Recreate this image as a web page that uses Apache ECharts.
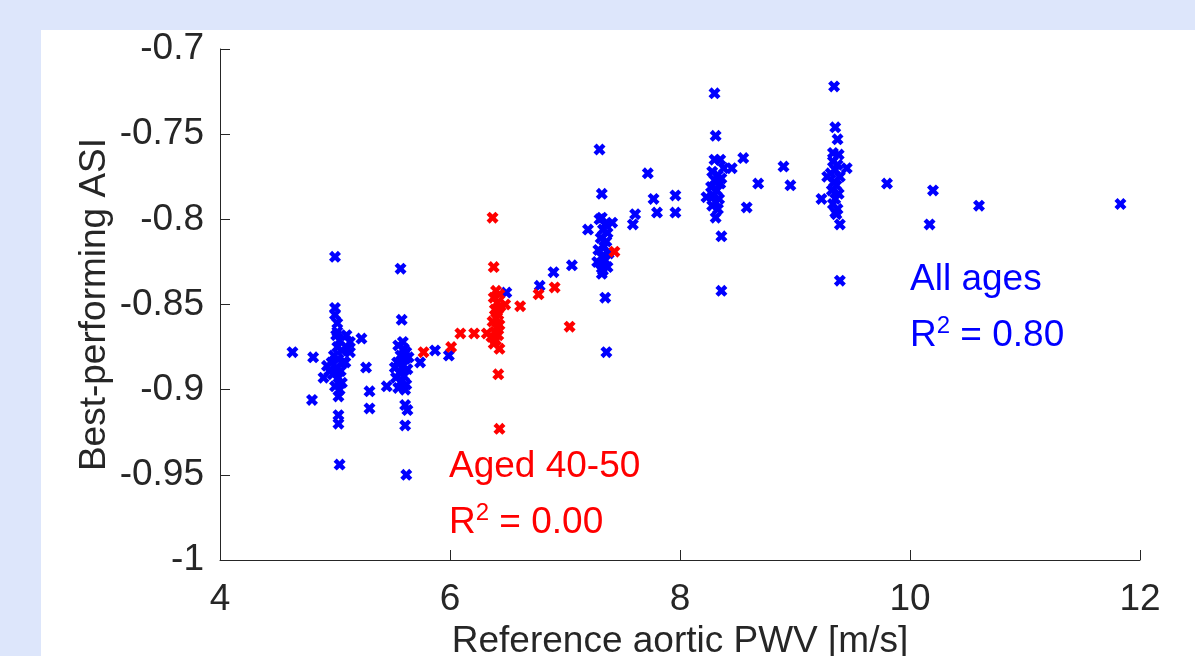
<!DOCTYPE html>
<html><head><meta charset="utf-8">
<script src="https://cdn.jsdelivr.net/npm/echarts@6/dist/echarts.min.js"></script>
<style>html,body{margin:0;padding:0;background:#fff}#c{width:1195px;height:656px}</style>
</head><body><div id="c"></div>
<script>
// X ticks and Y ticks
const xTicks = [4, 6, 8, 10, 12];
const yTicks = [-1, -0.95, -0.9, -0.85, -0.8, -0.75, -0.7];

// All ages (blue): [PWV, ASI]
const allAges = [
  [5.00,-0.822],[5.00,-0.852],[5.00,-0.856],[5.02,-0.861],[5.02,-0.866],[5.13,-0.872],[5.23,-0.870],
  [4.63,-0.878],[4.81,-0.881],[4.93,-0.886],[4.90,-0.893],[5.13,-0.878],[4.80,-0.906],[5.03,-0.904],
  [5.03,-0.915],[5.03,-0.920],[5.04,-0.944],[5.27,-0.887],[5.30,-0.901],[5.30,-0.911],[5.09,-0.884],
  [5.01,-0.868],[5.04,-0.871],[5.02,-0.875],[5.06,-0.877],[4.99,-0.880],[5.03,-0.882],[5.07,-0.884],
  [5.01,-0.887],[5.05,-0.889],[4.98,-0.891],[5.03,-0.893],[5.06,-0.896],[5.00,-0.898],[5.04,-0.900],
  [4.97,-0.884],[5.10,-0.868],[5.11,-0.876],[4.95,-0.889],
  [5.57,-0.829],[5.58,-0.859],[5.59,-0.872],[5.55,-0.874],[5.60,-0.876],[5.62,-0.878],[5.57,-0.880],
  [5.61,-0.882],[5.54,-0.884],[5.59,-0.886],[5.63,-0.888],[5.56,-0.890],[5.60,-0.892],[5.58,-0.895],
  [5.62,-0.897],[5.55,-0.899],[5.61,-0.900],[5.52,-0.887],[5.64,-0.881],[5.53,-0.893],[5.45,-0.898],
  [5.61,-0.909],[5.63,-0.912],[5.61,-0.921],[5.62,-0.950],[5.74,-0.884],[5.87,-0.877],[5.99,-0.880],
  [6.49,-0.843],[6.78,-0.839],[6.90,-0.831],[7.06,-0.827],
  [7.30,-0.759],[7.32,-0.785],[7.32,-0.799],[7.41,-0.802],[7.20,-0.806],[7.30,-0.800],[7.35,-0.803],
  [7.33,-0.806],[7.37,-0.808],[7.31,-0.811],[7.36,-0.813],[7.34,-0.816],[7.29,-0.818],[7.38,-0.820],
  [7.32,-0.822],[7.35,-0.824],[7.31,-0.826],[7.37,-0.828],[7.33,-0.830],[7.28,-0.825],[7.32,-0.832],
  [7.35,-0.846],[7.36,-0.878],[7.61,-0.797],[7.59,-0.803],[7.72,-0.773],[7.77,-0.788],[7.80,-0.796],
  [7.96,-0.786],[7.96,-0.796],
  [8.30,-0.726],[8.31,-0.751],[8.30,-0.765],[8.35,-0.765],[8.55,-0.764],[8.45,-0.770],[8.28,-0.772],
  [8.33,-0.774],[8.30,-0.777],[8.35,-0.779],[8.27,-0.781],[8.32,-0.783],[8.29,-0.786],[8.34,-0.788],
  [8.31,-0.790],[8.28,-0.792],[8.33,-0.794],[8.36,-0.776],[8.38,-0.770],[8.23,-0.787],[8.31,-0.799],
  [8.36,-0.810],[8.36,-0.842],[8.58,-0.793],[8.68,-0.779],[8.90,-0.769],[8.96,-0.780],
  [9.34,-0.722],[9.35,-0.746],[9.37,-0.753],[9.33,-0.761],[9.38,-0.762],[9.45,-0.770],[9.28,-0.775],
  [9.33,-0.766],[9.37,-0.768],[9.35,-0.771],[9.31,-0.773],[9.39,-0.775],[9.34,-0.778],[9.36,-0.780],
  [9.32,-0.783],[9.38,-0.785],[9.35,-0.788],[9.33,-0.791],[9.37,-0.794],[9.36,-0.797],[9.23,-0.788],
  [9.35,-0.796],[9.39,-0.803],[9.39,-0.836],[9.80,-0.779],[10.20,-0.783],[10.17,-0.803],[10.60,-0.792],
  [11.83,-0.791]
];

// Aged 40-50 (red): [PWV, ASI]
const aged4050 = [
  [5.77,-0.878],[6.01,-0.875],[6.09,-0.867],[6.21,-0.867],[6.32,-0.867],[6.37,-0.799],[6.38,-0.828],
  [6.40,-0.842],[6.43,-0.844],[6.38,-0.846],[6.41,-0.849],[6.44,-0.851],[6.39,-0.853],[6.42,-0.856],
  [6.40,-0.858],[6.37,-0.860],[6.43,-0.862],[6.41,-0.864],[6.39,-0.866],[6.42,-0.868],[6.40,-0.871],
  [6.38,-0.873],[6.43,-0.876],[6.41,-0.854],[6.36,-0.869],[6.48,-0.850],[6.61,-0.851],[6.42,-0.891],
  [6.43,-0.923],[6.77,-0.844],[6.91,-0.840],[7.04,-0.863],[7.43,-0.819]
];

const xName = 'Reference aortic PWV [m/s]';
const yName = 'Best-performing ASI';

const FONT = '"Liberation Sans", Arial, Helvetica, sans-serif';
const FS = 37;
const TXT = '#262626';
const XSYM = 'path://M0,2.6 L2.6,0 L5,2.4 L7.4,0 L10,2.6 L7.6,5 L10,7.4 L7.4,10 L5,7.6 L2.6,10 L0,7.4 L2.4,5 Z';

const chart = echarts.init(document.getElementById('c'), null, {renderer: 'canvas'});

function annot(x, y, line1, r2, color) {
  return [
    {type: 'text', z: 100, style: {text: line1, x: x, y: y, fill: color, fontSize: FS, fontFamily: FONT, verticalAlign: 'middle'}},
    {type: 'text', z: 100, style: {
      text: '{n|R}{s|2}{n| = ' + r2 + '}', x: x, y: y + 56, fill: color, verticalAlign: 'middle',
      rich: {n: {fontSize: FS, fontFamily: FONT, fill: color}, s: {fontSize: 24, fontFamily: FONT, fill: color, verticalAlign: 'top', padding: [0, 0, 20, 0]}}
    }}
  ];
}

chart.setOption({
  backgroundColor: '#ffffff',
  animation: false,
  graphic: [
    {type: 'rect', z: -10, shape: {x: 0, y: 0, width: 1195, height: 30}, style: {fill: '#dde6fb'}},
    {type: 'rect', z: -10, shape: {x: 0, y: 0, width: 41, height: 656}, style: {fill: '#dde6fb'}}
  ].concat(annot(910, 280, 'All ages', '0.80', '#0000ff'))
   .concat(annot(449, 467, 'Aged 40-50', '0.00', '#ff0000')),
  grid: {left: 220, top: 49, right: 55, bottom: 96, containLabel: false, outerBoundsMode: 'none'},
  xAxis: {
    type: 'value', min: xTicks[0], max: xTicks[xTicks.length - 1], interval: xTicks[1] - xTicks[0],
    name: xName, nameLocation: 'middle', nameGap: 61,
    nameTextStyle: {fontSize: FS, fontFamily: FONT, color: TXT},
    axisLine: {show: true, lineStyle: {color: TXT, width: 1}},
    axisTick: {show: true, inside: true, length: 10, lineStyle: {color: TXT}},
    axisLabel: {fontSize: FS, fontFamily: FONT, color: TXT, margin: 21},
    splitLine: {show: false}
  },
  yAxis: {
    type: 'value', min: yTicks[0], max: yTicks[yTicks.length - 1], interval: 0.05,
    name: yName, nameLocation: 'middle', nameGap: 107, nameMoveOverlap: false,
    nameTextStyle: {fontSize: FS, fontFamily: FONT, color: TXT},
    axisLine: {show: true, lineStyle: {color: TXT, width: 1}},
    axisTick: {show: true, inside: true, length: 10, lineStyle: {color: TXT}},
    axisLabel: {fontSize: FS, fontFamily: FONT, color: TXT, margin: 16,
      formatter: function (v) { return String(Math.round(v * 100) / 100); }},
    splitLine: {show: false}
  },
  series: [
    {type: 'scatter', name: 'All ages', data: allAges, symbol: XSYM, symbolSize: 12,
     itemStyle: {color: '#0000ff', opacity: 1}, z: 3},
    {type: 'scatter', name: 'Aged 40-50', data: aged4050, symbol: XSYM, symbolSize: 12,
     itemStyle: {color: '#ff0000', opacity: 1}, z: 4}
  ]
});
</script>
</body></html>
